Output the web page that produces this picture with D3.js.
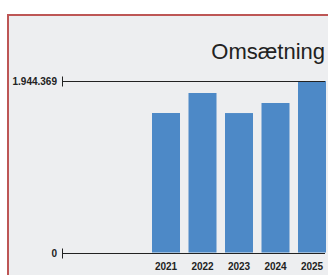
<!DOCTYPE html>
<html>
<head>
<meta charset="utf-8">
<script src="https://cdn.jsdelivr.net/npm/d3@7"></script>
<style>
html,body{margin:0;padding:0;background:#fff;overflow:hidden;}
svg{display:block;}
</style>
</head>
<body>
<svg id="chart" width="328" height="275"></svg>
<script>
const title = "Omsætning";
const years = ["2021", "2022", "2023", "2024", "2025"];
const revenue = [1581600, 1808300, 1581000, 1695000, 1944369];
const yTicks = [0, 1944369];

const svg = d3.select("#chart");
svg.append("rect").attr("x", 8).attr("y", 15).attr("width", 340).attr("height", 280)
  .attr("fill", "#edeef0").attr("stroke", "#bd5655").attr("stroke-width", 2);

const locale = d3.formatLocale({decimal: ",", thousands: ".", grouping: [3], currency: ["", " kr"]});
const fmt = locale.format(",d");

const y = d3.scaleLinear().domain([0, d3.max(revenue)]).range([252.5, 81]);
const x = d3.scaleBand().domain(years).range([147.75, 330.25]).paddingInner(0.233).paddingOuter(0.1165);

svg.append("text").attr("x", 325).attr("y", 59).attr("text-anchor", "end")
  .attr("font-family", "Liberation Sans, Arial, sans-serif").attr("font-size", 22)
  .attr("fill", "#222").text(title);

// bars
svg.append("g").selectAll("rect").data(revenue).join("rect")
  .attr("x", (d, i) => x(years[i]))
  .attr("width", x.bandwidth())
  .attr("y", d => y(d))
  .attr("height", d => y(0) - y(d))
  .attr("fill", "#4d89c7");

// y grid lines + ticks
const g = svg.append("g");
yTicks.forEach(t => {
  const yy = Math.round(y(t)) + 0.5;
  g.append("line").attr("x1", 62).attr("x2", 325).attr("y1", yy).attr("y2", yy)
    .attr("stroke", "#222").attr("stroke-width", 1);
  g.append("line").attr("x1", 62.5).attr("x2", 62.5).attr("y1", yy - 5).attr("y2", yy + 5)
    .attr("stroke", "#222").attr("stroke-width", 1);
  g.append("text").attr("x", 57).attr("y", yy + 3.5).attr("text-anchor", "end")
    .attr("font-family", "Liberation Sans, Arial, sans-serif").attr("font-size", 10)
    .attr("font-weight", "bold").attr("fill", "#222").text(fmt(t));
});

// x labels
svg.append("g").selectAll("text").data(years).join("text")
  .attr("x", d => x(d) + x.bandwidth() / 2)
  .attr("y", 270)
  .attr("text-anchor", "middle")
  .attr("font-family", "Liberation Sans, Arial, sans-serif").attr("font-size", 10)
  .attr("font-weight", "bold").attr("fill", "#222").text(d => d);
</script>
</body>
</html>
